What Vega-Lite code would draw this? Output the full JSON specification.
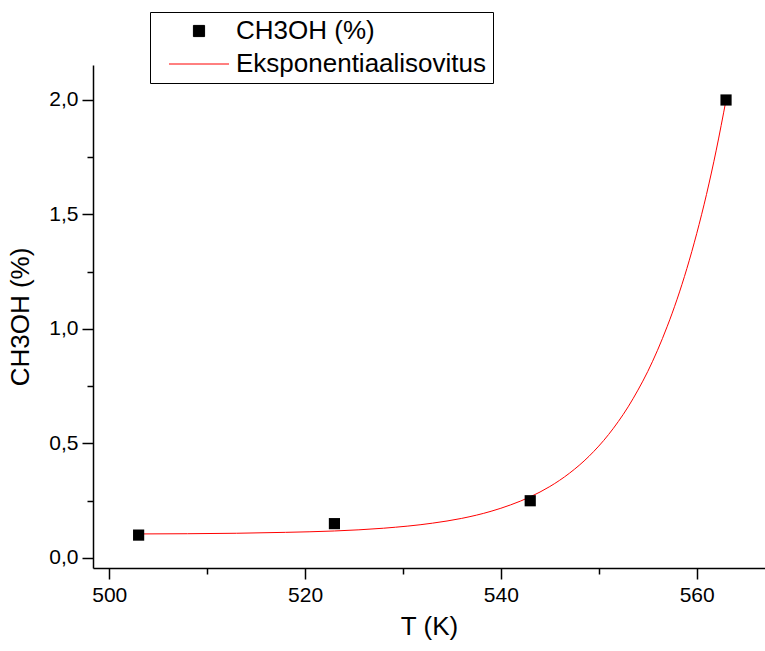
{
  "$schema": "https://vega.github.io/schema/vega-lite/v6.json",
  "width": 672,
  "height": 503,
  "autosize": {"type": "none"},
  "padding": {"left": 93, "top": 65, "right": 0, "bottom": 83},
  "background": "white",
  "config": {
    "view": {"stroke": null},
    "font": "Liberation Sans",
    "axis": {"grid": false, "domainColor": "black", "tickColor": "black", "labelColor": "black", "titleColor": "black", "labelFont": "Liberation Sans", "titleFont": "Liberation Sans", "titleFontWeight": "normal", "domainWidth": 1.5, "tickWidth": 1.5}
  },
  "datasets": {
    "points": [
      {"T": 503, "value": 0.10, "series": "CH3OH (%)"},
      {"T": 523, "value": 0.15, "series": "CH3OH (%)"},
      {"T": 543, "value": 0.25, "series": "CH3OH (%)"},
      {"T": 563, "value": 2.00, "series": "CH3OH (%)"}
    ],
    "fit": [
      {"T": 503, "value": 0.105, "series": "Eksponentiaalisovitus"},
      {"T": 508, "value": 0.106, "series": "Eksponentiaalisovitus"},
      {"T": 513, "value": 0.108, "series": "Eksponentiaalisovitus"},
      {"T": 518, "value": 0.112, "series": "Eksponentiaalisovitus"},
      {"T": 523, "value": 0.118, "series": "Eksponentiaalisovitus"},
      {"T": 528, "value": 0.130, "series": "Eksponentiaalisovitus"},
      {"T": 533, "value": 0.152, "series": "Eksponentiaalisovitus"},
      {"T": 536, "value": 0.173, "series": "Eksponentiaalisovitus"},
      {"T": 539, "value": 0.204, "series": "Eksponentiaalisovitus"},
      {"T": 541, "value": 0.232, "series": "Eksponentiaalisovitus"},
      {"T": 543, "value": 0.267, "series": "Eksponentiaalisovitus"},
      {"T": 545, "value": 0.312, "series": "Eksponentiaalisovitus"},
      {"T": 547, "value": 0.370, "series": "Eksponentiaalisovitus"},
      {"T": 549, "value": 0.444, "series": "Eksponentiaalisovitus"},
      {"T": 551, "value": 0.539, "series": "Eksponentiaalisovitus"},
      {"T": 552, "value": 0.596, "series": "Eksponentiaalisovitus"},
      {"T": 553, "value": 0.660, "series": "Eksponentiaalisovitus"},
      {"T": 554, "value": 0.733, "series": "Eksponentiaalisovitus"},
      {"T": 555, "value": 0.814, "series": "Eksponentiaalisovitus"},
      {"T": 556, "value": 0.907, "series": "Eksponentiaalisovitus"},
      {"T": 557, "value": 1.012, "series": "Eksponentiaalisovitus"},
      {"T": 558, "value": 1.130, "series": "Eksponentiaalisovitus"},
      {"T": 559, "value": 1.264, "series": "Eksponentiaalisovitus"},
      {"T": 560, "value": 1.416, "series": "Eksponentiaalisovitus"},
      {"T": 561, "value": 1.587, "series": "Eksponentiaalisovitus"},
      {"T": 562, "value": 1.781, "series": "Eksponentiaalisovitus"},
      {"T": 563, "value": 2.000, "series": "Eksponentiaalisovitus"}
    ]
  },
  "resolve": {"axis": {"x": "independent", "y": "independent"}},
  "layer": [
    {
      "data": {"name": "fit"},
      "mark": {"type": "line", "strokeWidth": 1, "interpolate": "monotone"},
      "encoding": {
        "x": {"field": "T", "type": "quantitative", "scale": {"domain": [498.34, 566.98], "nice": false, "zero": false},
              "axis": {"orient": "bottom", "values": [510, 530, 550], "labels": false, "tickSize": 6, "domain": false, "title": null}},
        "y": {"field": "value", "type": "quantitative", "scale": {"domain": [-0.0437, 2.1528], "nice": false, "zero": false},
              "axis": {"orient": "left", "values": [0.25, 0.75, 1.25, 1.75], "labels": false, "tickSize": 6, "domain": false, "title": null}},
        "color": {"field": "series", "type": "nominal",
          "scale": {"domain": ["CH3OH (%)", "Eksponentiaalisovitus"], "range": ["black", "red"]},
          "legend": {
            "orient": "none", "legendX": 57, "legendY": -53, "title": null,
            "strokeColor": "black", "fillColor": "white", "padding": 6,
            "symbolSize": 3600, "symbolStrokeWidth": 1, "symbolType": "stroke", "symbolOffset": 30,
            "labelFont": "Liberation Sans", "labelFontSize": 26, "labelColor": "black", "labelOffset": 24, "labelLimit": 500, "rowPadding": 7,
            "encode": {"symbols": {"update": {
              "shape": {"signal": "datum.value === 'Eksponentiaalisovitus' ? 'stroke' : 'square'"},
              "size": {"signal": "datum.value === 'Eksponentiaalisovitus' ? 3600 : 125"},
              "fill": {"signal": "datum.value === 'Eksponentiaalisovitus' ? 'transparent' : 'black'"},
              "stroke": {"signal": "datum.value === 'Eksponentiaalisovitus' ? 'red' : 'transparent'"},
              "strokeWidth": {"value": 1}
            }}}
          }}
      }
    },
    {
      "data": {"name": "points"},
      "mark": {"type": "point", "shape": "square", "filled": true, "size": 125, "opacity": 1},
      "encoding": {
        "x": {"field": "T", "type": "quantitative",
              "axis": {"orient": "bottom", "values": [500, 520, 540, 560], "tickSize": 11, "labelFontSize": 21, "labelPadding": 5, "title": "T (K)", "titleFontSize": 26, "titlePadding": 8}},
        "y": {"field": "value", "type": "quantitative",
              "axis": {"orient": "left", "values": [0, 0.5, 1, 1.5, 2], "tickSize": 11, "labelFontSize": 21, "labelPadding": 4, "labelExpr": "replace(format(datum.value, '.1f'), '.', ',')", "title": "CH3OH (%)", "titleFontSize": 26, "titlePadding": 15}},
        "color": {"field": "series", "type": "nominal"}
      }
    }
  ]
}
